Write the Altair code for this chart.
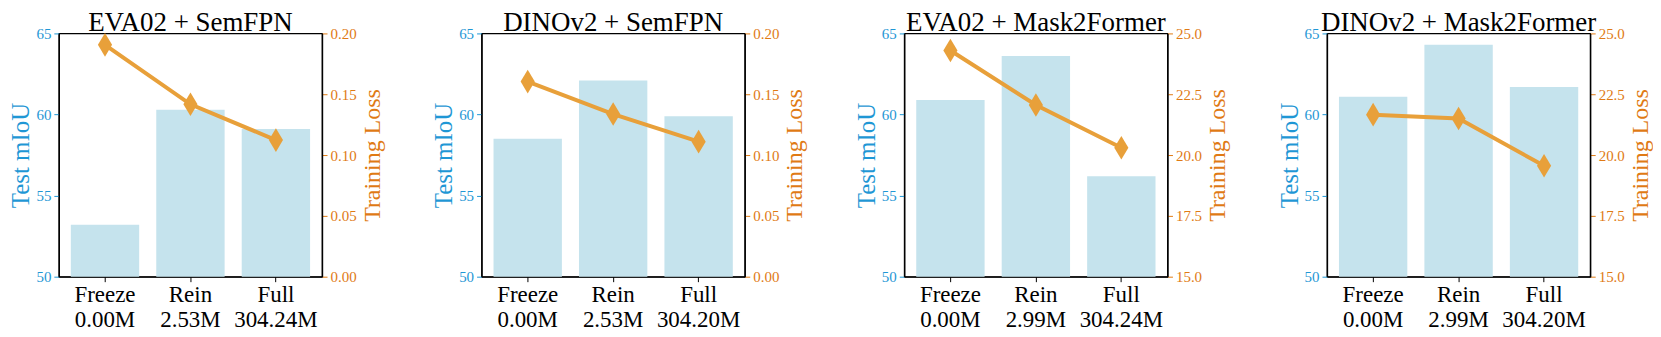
import altair as alt
import pandas as pd

# ---- data ----
titles = ["EVA02 + SemFPN", "DINOv2 + SemFPN", "EVA02 + Mask2Former", "DINOv2 + Mask2Former"]
methods = ["Freeze", "Rein", "Full"]
params = [
    ["0.00M", "2.53M", "304.24M"],
    ["0.00M", "2.53M", "304.20M"],
    ["0.00M", "2.99M", "304.24M"],
    ["0.00M", "2.99M", "304.20M"],
]
miou = [
    [53.2, 60.3, 59.1],
    [58.5, 62.1, 59.9],
    [60.9, 63.6, 56.2],
    [61.1, 64.3, 61.7],
]
loss = [
    [0.1906, 0.1417, 0.1123],
    [0.1604, 0.1337, 0.1110],
    [24.30, 22.06, 20.30],
    [21.66, 21.50, 19.56],
]
miou_ticks = [50, 55, 60, 65]
loss_domains = [[0, 0.2], [0, 0.2], [15, 25], [15, 25]]
loss_ticks = [
    [0, 0.05, 0.10, 0.15, 0.20],
    [0, 0.05, 0.10, 0.15, 0.20],
    [15, 17.5, 20, 22.5, 25],
    [15, 17.5, 20, 22.5, 25],
]
loss_formats = [".2f", ".2f", ".1f", ".1f"]

# ---- styles ----
FONT = "Liberation Serif"
BAR = "#c5e3ed"
LINE = "#e8a03a"
BLUE = "#1f97d5"
ORANGE = "#e07a14"
DIAMOND = "M0,-1L0.6,0L0,1L-0.6,0Z"
W, H = 264, 244


def panel(i):
    labels = [f"{m}|{p}" for m, p in zip(methods, params[i])]
    df = pd.DataFrame({"label": labels, "miou": miou[i], "loss": loss[i]})
    x = alt.X(
        "label:N",
        sort=labels,
        scale=alt.Scale(paddingInner=0.2, paddingOuter=0.14),
        axis=alt.Axis(
            title=None,
            labelExpr="split(datum.label, '|')",
            labelAngle=0,
            labelFont=FONT,
            labelFontSize=23,
            labelLineHeight=25,
            labelColor="black",
            labelPadding=2,
            tickSize=5,
            tickColor="black",
            domainColor="black",
            domainWidth=1.3,
        ),
    )
    bars = alt.Chart(df).mark_bar(color=BAR).encode(
        x=x,
        y=alt.Y(
            "miou:Q",
            scale=alt.Scale(domain=[50, 65], nice=False, zero=False),
            axis=alt.Axis(
                values=miou_ticks,
                title="Test mIoU",
                titleColor=BLUE,
                titleFont=FONT,
                titleFontSize=25,
                titleFontWeight="normal",
                titlePadding=2,
                labelColor=BLUE,
                labelFont=FONT,
                labelFontSize=15,
                labelPadding=3,
                tickColor=BLUE,
                tickSize=5,
                domainColor="black",
                domainWidth=1.3,
                grid=False,
            ),
        ),
        y2=alt.datum(50),
    )
    line = alt.Chart(df).mark_line(
        color=LINE,
        strokeWidth=4,
        point=alt.OverlayMarkDef(shape=DIAMOND, size=560, filled=True, color=LINE, opacity=1),
    ).encode(
        x=x,
        y=alt.Y(
            "loss:Q",
            scale=alt.Scale(domain=loss_domains[i], nice=False, zero=False),
            axis=alt.Axis(
                orient="right",
                values=loss_ticks[i],
                format=loss_formats[i],
                title="Training Loss",
                titleColor=ORANGE,
                titleFont=FONT,
                titleFontSize=24,
                titleFontWeight="normal",
                titleAngle=270,
                titleBaseline="top",
                titlePadding=4,
                labelColor=ORANGE,
                labelFont=FONT,
                labelFontSize=15,
                labelPadding=3,
                tickColor=ORANGE,
                tickSize=5,
                domainColor="black",
                domainWidth=1.3,
                grid=False,
            ),
        ),
    )
    return (
        alt.layer(bars, line)
        .resolve_scale(y="independent")
        .properties(
            width=W,
            height=H,
            title=alt.TitleParams(
                titles[i], font=FONT, fontSize=27, fontWeight="normal", color="black",
                offset=-11, anchor="middle",
            ),
        )
    )


chart = (
    alt.hconcat(*[panel(i) for i in range(4)], spacing=160, bounds="flush",
                padding={"left": 0, "top": 0, "right": 0, "bottom": 0})
    .configure(font=FONT)
    .configure_axis(labelFont=FONT, titleFont=FONT)
    .configure_title(font=FONT)
    .configure_view(stroke="black", strokeWidth=1.3)
)

chart.save("out.html", embed_options={"renderer": "svg", "actions": False})
